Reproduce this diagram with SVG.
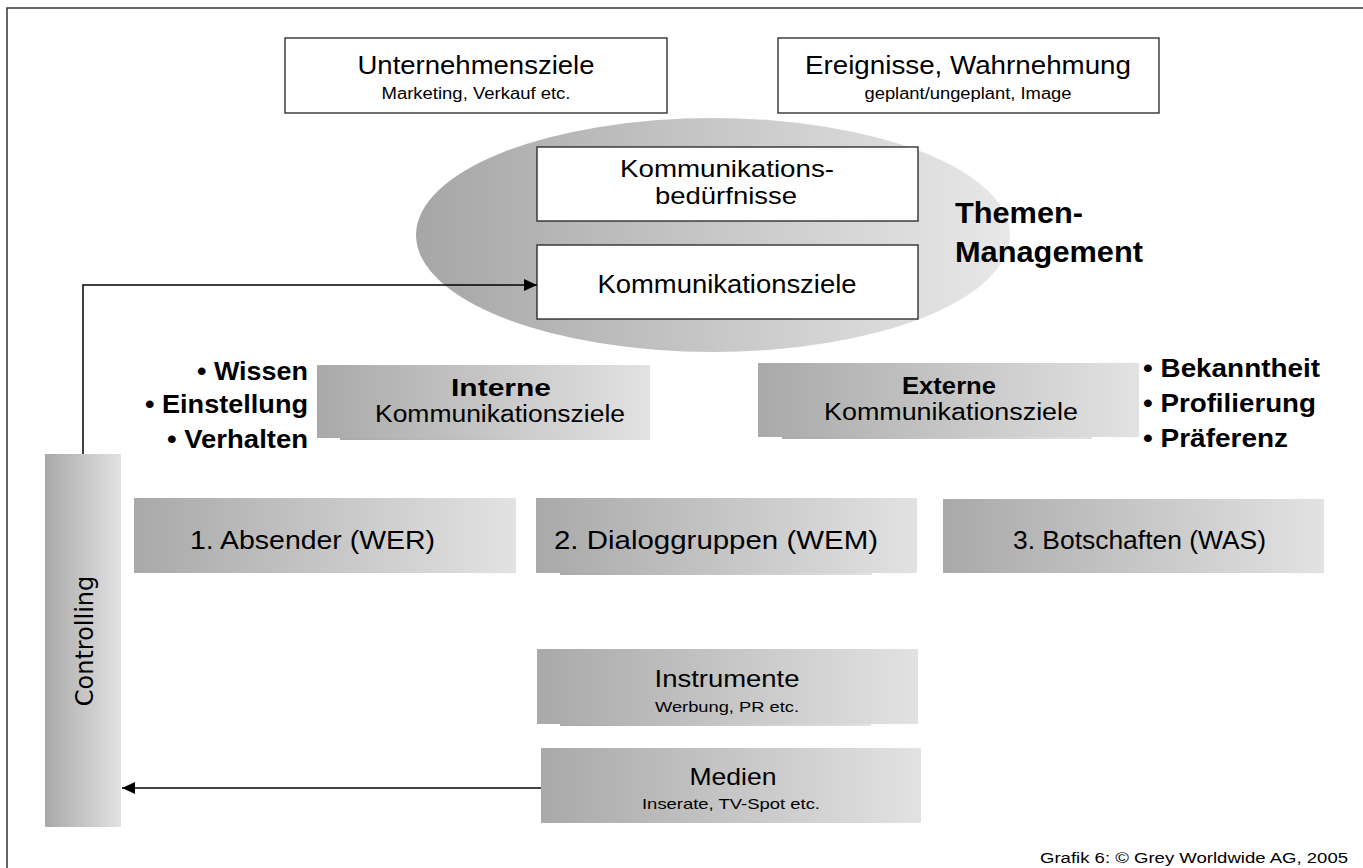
<svg xmlns="http://www.w3.org/2000/svg" width="1363" height="868" viewBox="0 0 1363 868">
<defs>
<linearGradient id="g" x1="0" y1="0" x2="1" y2="0">
<stop offset="0" stop-color="#a9a9a9"/>
<stop offset="1" stop-color="#e2e2e2"/>
</linearGradient>
<linearGradient id="ge" x1="0" y1="0" x2="1" y2="0">
<stop offset="0" stop-color="#a6a6a6"/>
<stop offset="1" stop-color="#e8e8e8"/>
</linearGradient>
<marker id="arr" markerWidth="14" markerHeight="12" refX="13" refY="6" orient="auto" markerUnits="userSpaceOnUse">
<path d="M0,0 L13,6 L0,12 Z" fill="#000"/>
</marker>
<style>
text{font-family:"Liberation Sans",Arial,sans-serif;fill:#000}
.c{text-anchor:middle}
.b{font-weight:bold}
.wb{fill:#fff;stroke:#222;stroke-width:1.3}
.gb{fill:url(#g)}
.ln{fill:none;stroke:#000;stroke-width:1.5}
</style>
</defs>
<rect x="0" y="0" width="1363" height="868" fill="#fff"/>
<path d="M7,868 V8 H1363" fill="none" stroke="#333" stroke-width="1.5"/>

<g id="unternehmensziele">
<rect class="wb" x="285" y="38" width="382" height="75"/>
<text class="c" x="476" y="74" font-size="25" textLength="237" lengthAdjust="spacingAndGlyphs">Unternehmensziele</text>
<text class="c" x="476" y="99" font-size="16" textLength="189" lengthAdjust="spacingAndGlyphs">Marketing, Verkauf etc.</text>
</g>

<g id="ereignisse">
<rect class="wb" x="778" y="38" width="381" height="75"/>
<text class="c" x="968" y="74" font-size="25" textLength="326" lengthAdjust="spacingAndGlyphs">Ereignisse, Wahrnehmung</text>
<text class="c" x="968" y="99" font-size="16" textLength="207" lengthAdjust="spacingAndGlyphs">geplant/ungeplant, Image</text>
</g>

<g id="themen-management">
<ellipse cx="713" cy="235" rx="297" ry="117" fill="url(#ge)"/>
<text class="b" x="955" y="223" font-size="29" textLength="128" lengthAdjust="spacingAndGlyphs">Themen-</text>
<text class="b" x="955" y="262" font-size="29" textLength="188" lengthAdjust="spacingAndGlyphs">Management</text>
</g>

<g id="beduerfnisse">
<rect class="wb" x="537" y="147" width="381" height="74"/>
<text class="c" x="727" y="177" font-size="24" textLength="214" lengthAdjust="spacingAndGlyphs">Kommunikations-</text>
<text class="c" x="726" y="204" font-size="24" textLength="142" lengthAdjust="spacingAndGlyphs">bedürfnisse</text>
</g>

<g id="kommunikationsziele">
<rect class="wb" x="537" y="245" width="381" height="74"/>
<text class="c" x="727" y="293" font-size="25" textLength="259" lengthAdjust="spacingAndGlyphs">Kommunikationsziele</text>
</g>

<g id="interne">
<rect class="gb" x="340" y="436" width="310" height="4"/>
<rect class="gb" x="317" y="365" width="333" height="73"/>
<text class="c b" x="501" y="396" font-size="23" textLength="100" lengthAdjust="spacingAndGlyphs">Interne</text>
<text class="c" x="500" y="422" font-size="23" textLength="250" lengthAdjust="spacingAndGlyphs">Kommunikationsziele</text>
</g>

<g id="interne-ziele">
<text class="b" x="197" y="380" font-size="25" textLength="111" lengthAdjust="spacingAndGlyphs">• Wissen</text>
<text class="b" x="145" y="413" font-size="25" textLength="163" lengthAdjust="spacingAndGlyphs">• Einstellung</text>
<text class="b" x="167" y="448" font-size="25" textLength="141" lengthAdjust="spacingAndGlyphs">• Verhalten</text>
</g>

<g id="externe">
<rect class="gb" x="782" y="435" width="310" height="4"/>
<rect class="gb" x="758" y="363" width="381" height="74"/>
<text class="c b" x="949" y="394" font-size="23" textLength="94" lengthAdjust="spacingAndGlyphs">Externe</text>
<text class="c" x="951" y="420" font-size="23" textLength="254" lengthAdjust="spacingAndGlyphs">Kommunikationsziele</text>
</g>

<g id="externe-ziele">
<text class="b" x="1143" y="377" font-size="25" textLength="177" lengthAdjust="spacingAndGlyphs">• Bekanntheit</text>
<text class="b" x="1143" y="412" font-size="25" textLength="173" lengthAdjust="spacingAndGlyphs">• Profilierung</text>
<text class="b" x="1143" y="447" font-size="25" textLength="145" lengthAdjust="spacingAndGlyphs">• Präferenz</text>
</g>

<g id="absender">
<rect class="gb" x="134" y="498" width="382" height="75"/>
<text x="190" y="549" font-size="25" textLength="245" lengthAdjust="spacingAndGlyphs">1. Absender (WER)</text>
</g>

<g id="dialoggruppen">
<rect class="gb" x="560" y="571" width="312" height="4"/>
<rect class="gb" x="536" y="498" width="381" height="75"/>
<text x="554" y="549" font-size="25" textLength="324" lengthAdjust="spacingAndGlyphs">2. Dialoggruppen (WEM)</text>
</g>

<g id="botschaften">
<rect class="gb" x="943" y="499" width="381" height="74"/>
<text x="1013" y="549" font-size="25" textLength="253" lengthAdjust="spacingAndGlyphs">3. Botschaften (WAS)</text>
</g>

<g id="instrumente">
<rect class="gb" x="560" y="722" width="311" height="4"/>
<rect class="gb" x="537" y="649" width="381" height="75"/>
<text class="c" x="727" y="687" font-size="24" textLength="145" lengthAdjust="spacingAndGlyphs">Instrumente</text>
<text class="c" x="727" y="712" font-size="15" textLength="144" lengthAdjust="spacingAndGlyphs">Werbung, PR etc.</text>
</g>

<g id="medien">
<rect class="gb" x="541" y="748" width="380" height="75"/>
<text class="c" x="733" y="785" font-size="24" textLength="87" lengthAdjust="spacingAndGlyphs">Medien</text>
<text class="c" x="731" y="809" font-size="15" textLength="178" lengthAdjust="spacingAndGlyphs">Inserate, TV-Spot etc.</text>
</g>

<g id="controlling">
<rect class="gb" x="45" y="454" width="76" height="373"/>
<text class="c" transform="translate(93,641) rotate(-90)" x="0" y="0" font-size="24" style="font-family:'DejaVu Sans',sans-serif">Controlling</text>
</g>

<g id="connectors">
<path class="ln" d="M83,454 V285 H537" marker-end="url(#arr)"/>
<path class="ln" d="M541,788 H122" marker-end="url(#arr)"/>
</g>

<text x="1040" y="863" font-size="14" textLength="308" lengthAdjust="spacingAndGlyphs">Grafik 6: © Grey Worldwide AG, 2005</text>
</svg>
